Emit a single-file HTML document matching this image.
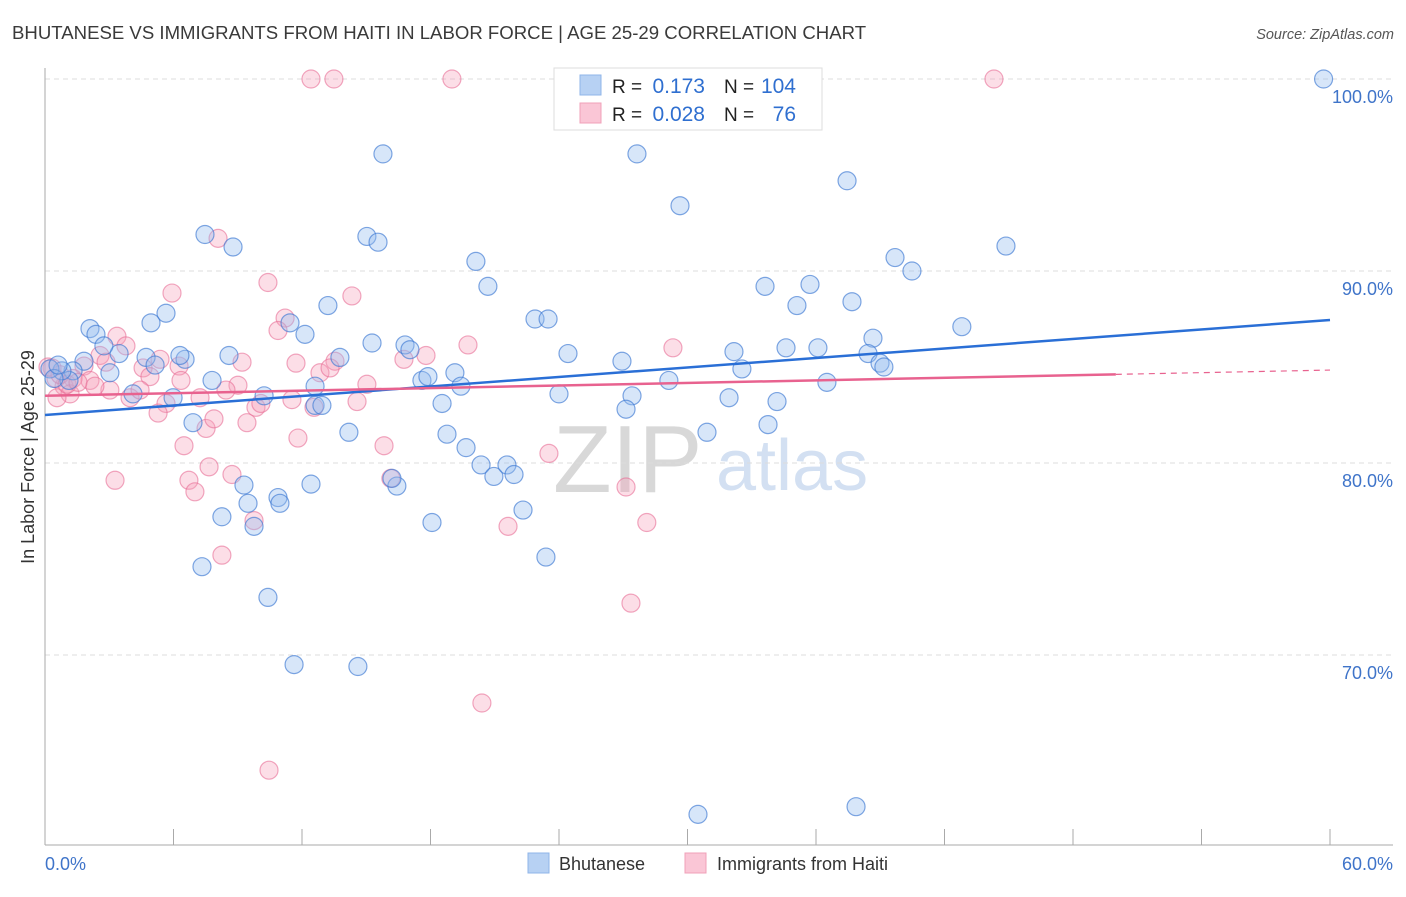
<!DOCTYPE html>
<html><head><meta charset="utf-8"><style>
body{margin:0;background:#fff;font-family:"Liberation Sans",sans-serif;}
svg text{font-family:"Liberation Sans",sans-serif;}
</style></head><body>
<svg id="chart" width="1406" height="892" viewBox="0 0 1406 892" xmlns="http://www.w3.org/2000/svg">
<text x="12" y="39" font-size="18.6" fill="#3a3a3a">BHUTANESE VS IMMIGRANTS FROM HAITI IN LABOR FORCE | AGE 25-29 CORRELATION CHART</text>
<text x="1394" y="39" font-size="14.5" fill="#555" font-style="italic" text-anchor="end">Source: ZipAtlas.com</text>
<g>
<text x="553" y="492" font-size="96" fill="#d8d8d8" font-family="Liberation Serif">ZIP</text>
<text x="716" y="490" font-size="72" fill="#d3e0f2">atlas</text>
</g>
<g id="grid"></g>
<g id="axes"></g>
<g id="marks"></g>
<text transform="translate(34,457) rotate(-90)" font-size="18" fill="#333" text-anchor="middle">In Labor Force | Age 25-29</text>
<g>
<rect x="554" y="68" width="268" height="62" fill="#fff" stroke="#ddd"/>
<rect x="580" y="75" width="21" height="20" fill="#b7d1f3" stroke="#8fb5e8"/>
<rect x="580" y="103" width="21" height="20" fill="#fac6d6" stroke="#f0a0b8"/>
<text x="612" y="93" font-size="19" fill="#222">R =</text>
<text x="705" y="93" font-size="21" fill="#2f6fd0" text-anchor="end">0.173</text>
<text x="724" y="93" font-size="19" fill="#222">N =</text>
<text x="796" y="93" font-size="21" fill="#2f6fd0" text-anchor="end">104</text>
<text x="612" y="121" font-size="19" fill="#222">R =</text>
<text x="705" y="121" font-size="21" fill="#2f6fd0" text-anchor="end">0.028</text>
<text x="724" y="121" font-size="19" fill="#222">N =</text>
<text x="796" y="121" font-size="21" fill="#2f6fd0" text-anchor="end">76</text>
</g>
<g>
<rect x="528" y="853" width="21" height="20" fill="#b7d1f3" stroke="#8fb5e8"/>
<text x="559" y="870" font-size="18" fill="#333">Bhutanese</text>
<rect x="685" y="853" width="21" height="20" fill="#fac6d6" stroke="#f0a0b8"/>
<text x="717" y="870" font-size="18" fill="#333">Immigrants from Haiti</text>
</g>
</svg>
<script>
const yTicks=[100,90,80,70];
const yTickLabels=["100.0%","90.0%","80.0%","70.0%"];
const xEdgeLabels=["0.0%","60.0%"];
const blueX=[59.7,15.78,27.64,37.45,29.65,7.47,8.78,15.03,15.55,20.12,20.68,39.69,40.48,44.87,33.62,35.72,35.11,37.68,42.81,13.21,5.65,4.95,2.1,2.38,11.44,12.14,22.88,23.49,15.27,16.81,17.04,24.42,26.94,32.17,34.6,36.09,38.66,38.43,38.99,39.17,32.54,36.51,29.13,24.0,27.41,27.13,31.94,34.18,33.76,30.91,19.14,19.42,17.6,17.88,18.54,18.77,19.66,20.36,20.96,21.57,21.9,22.32,23.39,18.07,16.43,16.2,14.19,12.61,12.93,12.61,13.77,8.59,7.8,6.54,6.3,4.72,5.14,3.46,2.75,1.82,3.03,1.31,1.12,0.79,0.23,0.42,0.61,4.11,5.98,6.91,8.26,9.48,9.76,9.29,10.23,10.88,10.97,12.42,7.33,10.41,11.63,14.61,30.49,37.87];
const blueY=[100,96.1,96.1,94.7,93.4,91.9,91.25,91.8,91.5,90.5,89.2,90.7,90.0,91.3,89.2,89.3,88.2,88.4,87.1,88.2,87.8,87.3,87.0,86.7,87.3,86.7,87.5,87.5,86.25,86.15,85.9,85.7,85.3,85.8,86.0,86.0,86.5,85.7,85.2,85.0,84.9,84.2,84.3,83.6,83.5,82.8,83.4,83.2,82.0,81.6,84.7,84.0,84.3,84.5,83.1,81.5,80.8,79.9,79.3,79.9,79.4,77.55,75.1,76.9,78.8,79.2,81.6,83.0,83.0,84.0,85.5,85.6,84.3,85.4,85.6,85.5,85.1,85.7,86.1,85.3,84.7,84.8,84.3,84.8,84.9,84.4,85.1,83.6,83.4,82.1,77.2,77.9,76.7,78.85,83.5,78.2,77.9,78.9,74.6,73.0,69.5,69.4,61.7,62.1];
const pinkX=[12.42,13.49,19.0,44.31,8.08,10.41,5.93,14.33,11.21,10.88,11.72,9.2,19.75,29.32,16.76,17.79,13.54,12.84,13.31,3.36,3.78,4.58,5.37,6.26,2.57,2.85,1.82,2.1,1.31,0.89,1.17,0.51,0.33,0.56,3.03,3.97,4.9,6.35,9.01,8.45,7.24,5.65,5.28,7.52,7.89,9.43,9.85,10.08,11.53,12.56,14.57,15.03,6.49,11.81,15.83,23.53,7.66,8.73,6.72,7.0,3.27,16.15,27.13,28.1,21.62,9.76,8.26,27.36,20.4,10.46,0.14,0.7,1.03,1.54,2.33,4.44];
const pinkY=[100,100,100,100,91.7,89.4,88.85,88.7,87.55,86.9,85.2,85.25,86.15,86.0,85.4,85.6,85.3,84.7,84.95,86.6,86.1,84.95,85.4,85.05,85.6,85.25,85.05,84.3,84.4,84.0,83.6,84.4,84.95,83.4,83.8,83.4,84.5,84.3,84.05,83.8,83.4,83.1,82.6,81.8,82.3,82.1,82.9,83.1,83.3,82.9,83.2,84.1,80.9,81.3,80.9,80.5,79.8,79.4,79.1,78.5,79.1,79.2,78.75,76.9,76.7,77.0,75.2,72.7,67.5,64.0,85.0,84.6,84.1,84.2,84.0,83.8];
const blueTrend=[82.5,87.45];
const pinkTrend=[83.5,84.84];
const pinkSolidEnd=50;

const NS="http://www.w3.org/2000/svg";
const X0=45,X1=1330,Y100=79,PXPER=19.2;
function sx(v){return X0+(X1-X0)*v/60;}
function sy(v){return Y100+(100-v)*PXPER;}
function mk(tag,attrs,parent){const e=document.createElementNS(NS,tag);for(const k in attrs)e.setAttribute(k,attrs[k]);parent.appendChild(e);return e;}
const grid=document.getElementById('grid'),axes=document.getElementById('axes'),marks=document.getElementById('marks');
yTicks.forEach((t,i)=>{
  const l=mk('line',{x1:X0,x2:1393,y1:sy(t),y2:sy(t),stroke:'#dcdcdc','stroke-dasharray':'5,4'},grid);
  
  
  const tx=mk('text',{x:1393,y:sy(t)+24,'font-size':18,fill:'#3f74c9','text-anchor':'end'},axes);
  tx.textContent=yTickLabels[i];
  
  
});
const ya=mk('line',{x1:X0,x2:X0,y1:68,y2:845,stroke:'#aaa'},axes);


const xa=mk('line',{x1:X0,x2:1393,y1:845,y2:845,stroke:'#aaa'},axes);


for(let v=0;v<=60;v+=6){
  const t=mk('line',{x1:sx(v),x2:sx(v),y1:829,y2:845,stroke:'#aaa'},axes);
  
  
}
const xl0=mk('text',{x:45,y:870,'font-size':18,fill:'#3f74c9'},axes);xl0.textContent=xEdgeLabels[0];


const xl1=mk('text',{x:1393,y:870,'font-size':18,fill:'#3f74c9','text-anchor':'end'},axes);xl1.textContent=xEdgeLabels[1];


pinkX.forEach((v,i)=>{
  const c=mk('circle',{cx:sx(v),cy:sy(pinkY[i]),r:9,fill:'rgba(247,160,185,0.35)',stroke:'rgba(232,110,150,0.6)','stroke-width':1.2},marks);
  
  
});
blueX.forEach((v,i)=>{
  const c=mk('circle',{cx:sx(v),cy:sy(blueY[i]),r:9,fill:'rgba(150,190,240,0.38)',stroke:'rgba(60,120,210,0.65)','stroke-width':1.2},marks);
  
  
});
const bl=mk('line',{x1:sx(0),y1:sy(blueTrend[0]),x2:sx(60),y2:sy(blueTrend[1]),stroke:'#2a6fd6','stroke-width':2.5},marks);


const pmid=pinkTrend[0]+(pinkTrend[1]-pinkTrend[0])*pinkSolidEnd/60;
const pl=mk('line',{x1:sx(0),y1:sy(pinkTrend[0]),x2:sx(pinkSolidEnd),y2:sy(pmid),stroke:'#e8628f','stroke-width':2.5},marks);


const pd=mk('line',{x1:sx(pinkSolidEnd),y1:sy(pmid),x2:sx(60),y2:sy(pinkTrend[1]),stroke:'#e8628f','stroke-width':1.2,'stroke-dasharray':'6,5'},marks);


</script>
</body></html>
